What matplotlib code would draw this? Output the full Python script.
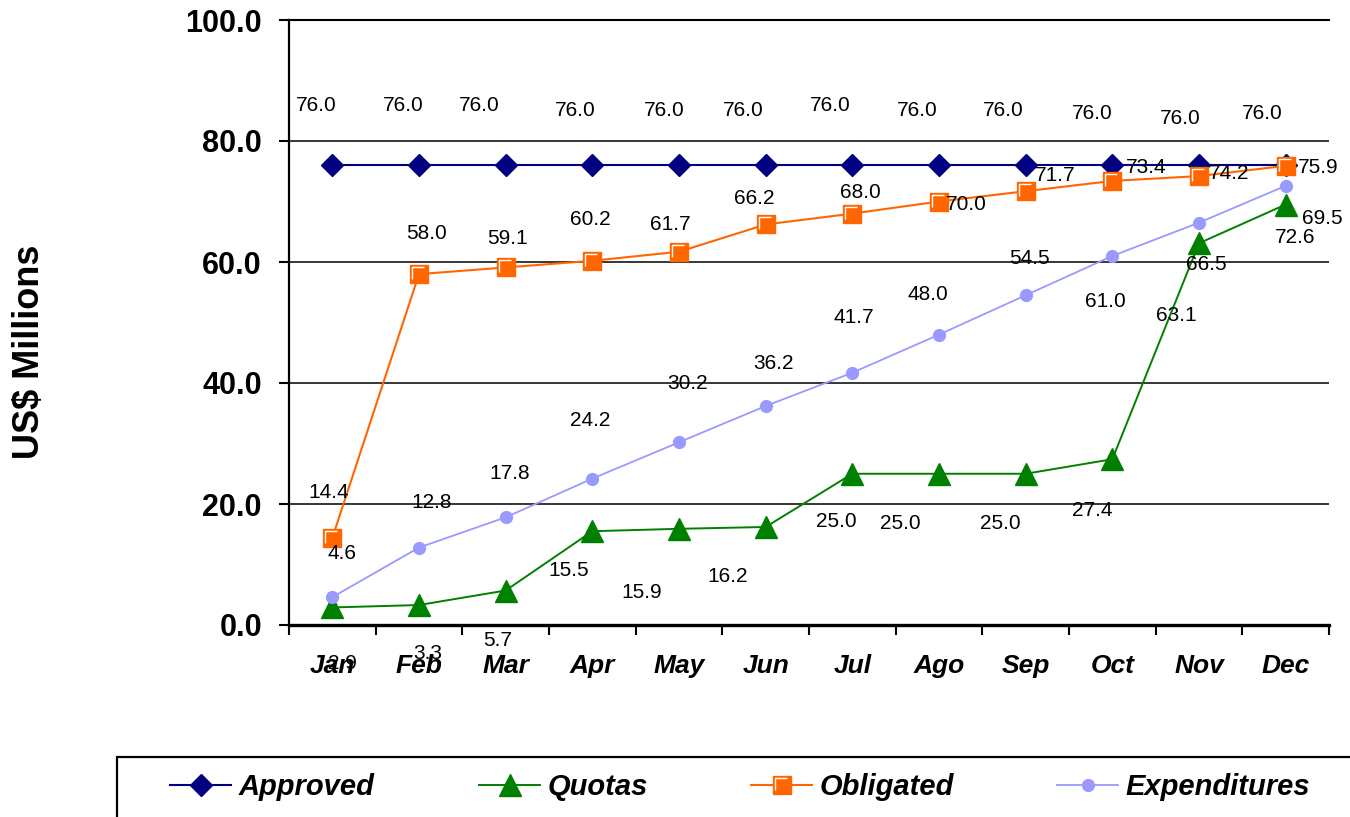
import matplotlib
matplotlib.use("Agg")
import matplotlib.pyplot as plt
from matplotlib.path import Path
from matplotlib.patches import Rectangle

plt.rcParams['font.family'] = ['Liberation Sans', 'DejaVu Sans']

# data
months = ['Jan', 'Feb', 'Mar', 'Apr', 'May', 'Jun', 'Jul', 'Ago', 'Sep', 'Oct', 'Nov', 'Dec']
approved = [76.0, 76.0, 76.0, 76.0, 76.0, 76.0, 76.0, 76.0, 76.0, 76.0, 76.0, 76.0]
quotas = [2.9, 3.3, 5.7, 15.5, 15.9, 16.2, 25.0, 25.0, 25.0, 27.4, 63.1, 69.5]
obligated = [14.4, 58.0, 59.1, 60.2, 61.7, 66.2, 68.0, 70.0, 71.7, 73.4, 74.2, 75.9]
expenditures = [4.6, 12.8, 17.8, 24.2, 30.2, 36.2, 41.7, 48.0, 54.5, 61.0, 66.5, 72.6]
yticks = [0, 20, 40, 60, 80, 100]

# label offsets in pixels (dx, dy), as placed in the original
approved_off = [(-16, 60), (-16, 60), (-26, 60), (-17, 55), (-15, 55), (-22, 55),
                (-22, 60), (-22, 55), (-22, 55), (-20, 52), (-19, 47), (-23, 52)]
quotas_off = [(10, -56), (9, -48), (-8, -50), (-24, -39), (-37, -64), (-38, -50),
              (-16, -48), (-39, -50), (-25, -50), (-20, -51), (-23, -72), (37, -14)]
obligated_off = [(-4, 45), (8, 41), (2, 29), (-2, 41), (-9, 27), (-11, 26),
                 (8, 21), (27, -3), (30, 16), (34, 13), (30, 3), (33, -2)]
expend_off = [(10, 44), (13, 45), (4, 44), (-2, 58), (9, 59), (8, 42),
              (1, 55), (-11, 40), (4, 37), (-7, -46), (7, -42), (9, -52)]

x = list(range(len(months)))

fig = plt.figure(figsize=(13.5, 8.17), dpi=100)
ax = fig.add_axes([289 / 1350, 1 - 625 / 817, 1040 / 1350, 605 / 817])

l_app, = ax.plot(x, approved, color='#000080', lw=1.5, marker='D', ms=11.5,
                 mec='#000080', mfc='#000080', zorder=3)
l_quo, = ax.plot(x, quotas, color='#008000', lw=1.4, marker='^', ms=16,
                 mec='#008000', mfc='#008000', zorder=4)
l_obl, = ax.plot(x, obligated, color='#FF6600', lw=1.5, marker='s', ms=13,
                 mec='#FF6600', mfc='#FF6600', zorder=5)
# white bevel inside the squares
bevel = Path([(-1, -0.75), (-1, 1), (0.75, 1)], [Path.MOVETO, Path.LINETO, Path.LINETO])
l_bev, = ax.plot(x, obligated, ls='none', marker=bevel, ms=10, mfc='none',
                 mec='white', mew=1.0, zorder=5.5)
l_exp, = ax.plot(x, expenditures, color='#9999FF', lw=1.3, marker='o', ms=8.5,
                 mec='#9999FF', mfc='#9999FF', zorder=6)

for vals, offs in [(approved, approved_off), (quotas, quotas_off),
                   (obligated, obligated_off), (expenditures, expend_off)]:
    for xi, v, (dx, dy) in zip(x, vals, offs):
        ax.annotate(f'{v:.1f}', (xi, v), xytext=(dx, dy), textcoords='offset pixels',
                    ha='center', va='center', fontsize=15, color='black', zorder=7)

ax.set_xlim(-0.5, 11.5)
ax.set_ylim(0, 100)
ax.set_yticks(yticks)
ax.set_yticklabels([f'{t:.1f}' for t in yticks], fontsize=22, fontweight='bold')
ax.tick_params(axis='y', direction='out', length=7.5, width=1.5, pad=12, colors='black')

ax.set_xticks(x)
ax.set_xticklabels(months, fontsize=19, fontweight='bold', fontstyle='italic')
ax.set_xticks([i - 0.5 for i in range(len(months) + 1)], minor=True)
ax.tick_params(axis='x', which='major', length=0, pad=21)
ax.tick_params(axis='x', which='minor', direction='out', length=7.5, width=1.5)

ax.grid(axis='y', color='black', lw=1.1)
ax.set_axisbelow(True)
ax.spines['right'].set_visible(False)
ax.spines['top'].set_linewidth(1.5)
ax.spines['left'].set_linewidth(1.6)
ax.spines['bottom'].set_linewidth(2.4)

fig.text(30 / 1350, 1 - 352 / 817, 'US$ Millions', rotation=90, ha='center', va='center',
         fontsize=26, fontweight='bold')

# legend box running off the bottom/right edge
fig.add_artist(Rectangle((117 / 1350, -0.05), 1.1, 0.05 + 1 - 757 / 817,
                         transform=fig.transFigure, fill=False, ec='black', lw=1.6,
                         clip_on=False))
handles = [l_app, l_quo, (l_obl, l_bev), l_exp]
names = ['Approved', 'Quotas', 'Obligated', 'Expenditures']
starts = [170, 479, 751, 1057]
for h, n, sx in zip(handles, names, starts):
    fig.legend([h], [n], loc='center left', bbox_to_anchor=(sx / 1350, 1 - 787 / 817),
               frameon=False, borderpad=0, borderaxespad=0, handlelength=2.1,
               handletextpad=0.25, prop={'size': 21, 'weight': 'bold', 'style': 'italic'})

fig.savefig('out.png', dpi=100)
